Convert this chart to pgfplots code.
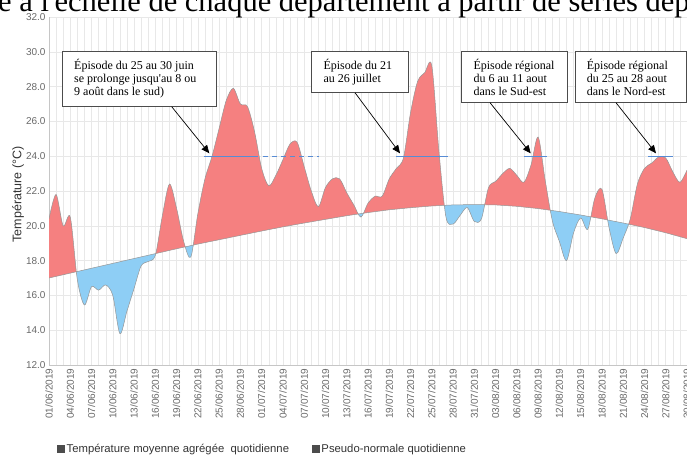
\documentclass[border=0pt]{standalone}
\usepackage{pgfplots}
\pgfplotsset{compat=1.18}
\usepgfplotslibrary{fillbetween}
\usetikzlibrary{arrows.meta}
\usepackage{fontspec}
\setmainfont{Liberation Sans}
\newfontfamily\boxfont{Liberation Serif}

\definecolor{warm}{RGB}{245,128,128}
\definecolor{cool}{RGB}{142,206,245}
\definecolor{episode}{RGB}{88,140,212}
\definecolor{gridc}{RGB}{232,232,232}
\definecolor{tickc}{RGB}{105,105,105}
\definecolor{edgec}{RGB}{150,150,150}

% temperature moyenne agregee quotidienne (jour 0 = 01/06/2019)
\pgfplotstableread{
day temp
0 20.4
1 21.8
2 20.0
3 20.5
4 16.9
5 15.45
6 16.5
7 16.3
8 16.6
9 16.0
10 13.8
11 15.1
12 16.4
13 17.7
14 17.95
15 18.3
16 20.6
17 22.4
18 21.0
19 19.1
20 18.2
21 20.7
22 22.7
23 24.0
24 25.6
25 27.2
26 27.9
27 27.0
28 26.85
29 25.4
30 23.3
31 22.3
32 22.9
33 23.8
34 24.7
35 24.8
36 23.4
37 22.0
38 21.1
39 22.2
40 22.7
41 22.7
42 21.9
43 21.2
44 20.5
45 21.3
46 21.7
47 21.7
48 22.7
49 23.3
50 23.9
51 26.5
52 28.3
53 28.8
54 29.2
55 24.3
56 20.5
57 20.1
58 20.6
59 21.05
60 20.25
61 20.4
62 22.2
63 22.55
64 23.0
65 23.3
66 22.9
67 22.5
68 23.5
69 25.1
70 22.6
71 20.3
72 19.1
73 18.0
74 19.6
75 20.45
76 19.8
77 21.6
78 22.1
79 19.9
80 18.4
81 19.3
82 20.4
83 22.4
84 23.3
85 23.6
86 23.95
87 23.9
88 23.1
89 22.5
90 23.2
}\dailytemp

% pseudo-normale quotidienne
\pgfplotstableread{
day norm
0 17.00
3 17.28
6 17.56
9 17.84
12 18.12
15 18.40
18 18.68
21 18.95
24 19.20
27 19.45
30 19.70
33 19.94
36 20.16
39 20.37
42 20.58
45 20.76
48 20.92
51 21.04
54 21.14
57 21.20
60 21.22
63 21.20
66 21.12
69 20.99
72 20.82
75 20.62
78 20.40
81 20.16
84 19.90
87 19.60
90 19.26
}\normale

\begin{document}
\begin{tikzpicture}
\begin{axis}[
  at={(49pt,92pt)}, anchor=south west,
  scale only axis, width=638pt, height=348pt,
  xmin=0, xmax=90, ymin=12, ymax=32,
  axis x line*=bottom, axis y line*=left,
  axis line style={draw=gray!45},
  tick style={draw=none},
  xtick={0,3,...,90}, minor x tick num=2,
  ytick={12,14,...,32},
  grid=both,
  major grid style={draw=gridc, line width=0.5pt},
  minor grid style={draw=gridc, line width=0.4pt},
  /pgf/number format/assume math mode=true,
  yticklabel style={/pgf/number format/.cd, fixed, fixed zerofill, precision=1,
    /tikz/.cd, font=\fontsize{10}{12}\selectfont, color=tickc},
  xticklabels={01/06/2019,04/06/2019,07/06/2019,10/06/2019,13/06/2019,16/06/2019,
    19/06/2019,22/06/2019,25/06/2019,28/06/2019,01/07/2019,04/07/2019,07/07/2019,
    10/07/2019,13/07/2019,16/07/2019,19/07/2019,22/07/2019,25/07/2019,28/07/2019,
    31/07/2019,03/08/2019,06/08/2019,09/08/2019,12/08/2019,15/08/2019,18/08/2019,
    21/08/2019,24/08/2019,27/08/2019,30/08/2019},
  xticklabel style={rotate=90, anchor=east, font=\fontsize{10}{12}\selectfont, color=tickc},
  ylabel={Température (°C)},
  ylabel style={at={(axis description cs:-0.0486,0.49)}, anchor=center,
    font=\fontsize{12.5}{14}\selectfont, color=black!80},
  legend style={at={(axis description cs:0.008,-0.241)}, anchor=west,
    draw=none, fill=none, font=\fontsize{11.3}{13}\selectfont, text=black!80,
    legend columns=2, /tikz/every even column/.append style={column sep=21pt}},
  legend image code/.code={\fill[black!70] (0pt,-3.5pt) rectangle (7pt,3.5pt);},
]
\addlegendimage{black!70}
\addlegendentry{Température moyenne agrégée~ quotidienne}
\addlegendimage{black!70}
\addlegendentry{Pseudo-normale quotidienne}

\addplot[draw=none, smooth, name path=T, forget plot] table[x=day, y=temp] {\dailytemp};
\addplot[draw=none, name path=N, forget plot] table[x=day, y=norm] {\normale};
\addplot[forget plot] fill between[of=T and N, split,
  every even segment/.style={fill=warm},
  every odd segment/.style={fill=cool}];
\addplot[edgec, line width=0.5pt, smooth, forget plot] table[x=day, y=temp] {\dailytemp};
\addplot[edgec, line width=0.5pt, forget plot] table[x=day, y=norm] {\normale};

% episodes de canicule (seuil 24 degres)
\addplot[episode, line width=1.2pt, forget plot] coordinates {(21.8,24) (29.5,24)};
\addplot[episode, line width=1.2pt, dash pattern=on 5pt off 4pt, forget plot] coordinates {(30.2,24) (38.1,24)};
\addplot[episode, line width=1.2pt, forget plot] coordinates {(49.0,24) (56.3,24)};
\addplot[episode, line width=1.2pt, forget plot] coordinates {(67.0,24) (70.2,24)};
\addplot[episode, line width=1.2pt, forget plot] coordinates {(84.5,24) (88.0,24)};
\end{axis}

% bout de texte coupe au-dessus du graphique
\node[anchor=base west, inner sep=0pt, font=\boxfont\fontsize{30.5}{32}\selectfont]
  at (-2pt,445pt) {e à l'échelle de chaque département à partir de séries dép};

% encadres
\tikzset{box/.style={draw=black!70, fill=white, line width=0.7pt},
  boxtxt/.style={anchor=base west, inner sep=0pt, font=\boxfont\fontsize{12}{13.5}\selectfont},
  arr/.style={black, line width=0.7pt, -{Triangle[length=8pt, width=7pt]}}}

\draw[box] (62.7pt,405.3pt) rectangle (216pt,350.3pt);
\node[boxtxt] at (74pt,387.7pt) {Épisode du 25 au 30 juin};
\node[boxtxt] at (74pt,374.3pt) {se prolonge jusqu'au 8 ou};
\node[boxtxt] at (74pt,361pt) {9 août dans le sud)};
\draw[arr] (171.7pt,350.3pt) -- (209.3pt,303.7pt);

\draw[box] (311.7pt,405.3pt) rectangle (408.3pt,364.3pt);
\node[boxtxt] at (323.3pt,387.7pt) {Épisode du 21};
\node[boxtxt] at (323.3pt,374.3pt) {au 26 juillet};
\draw[arr] (355pt,364.3pt) -- (400pt,303.7pt);

\draw[box] (461.7pt,405.3pt) rectangle (567.7pt,354.3pt);
\node[boxtxt] at (473.3pt,387.7pt) {Épisode régional};
\node[boxtxt] at (473.3pt,374.3pt) {du 6 au 11 aout};
\node[boxtxt] at (473.3pt,361pt) {dans le Sud-est};
\draw[arr] (490pt,354.3pt) -- (530.7pt,303.7pt);

\draw[box] (575pt,405.3pt) rectangle (686.3pt,354.3pt);
\node[boxtxt] at (586.7pt,387.7pt) {Épisode régional};
\node[boxtxt] at (586.7pt,374.3pt) {du 25 au 28 aout};
\node[boxtxt] at (586.7pt,361pt) {dans le Nord-est};
\draw[arr] (616pt,354.3pt) -- (656pt,303.7pt);

\pgfresetboundingbox
\useasboundingbox (0pt,0pt) rectangle (687pt,457pt);
\end{tikzpicture}
\end{document}
